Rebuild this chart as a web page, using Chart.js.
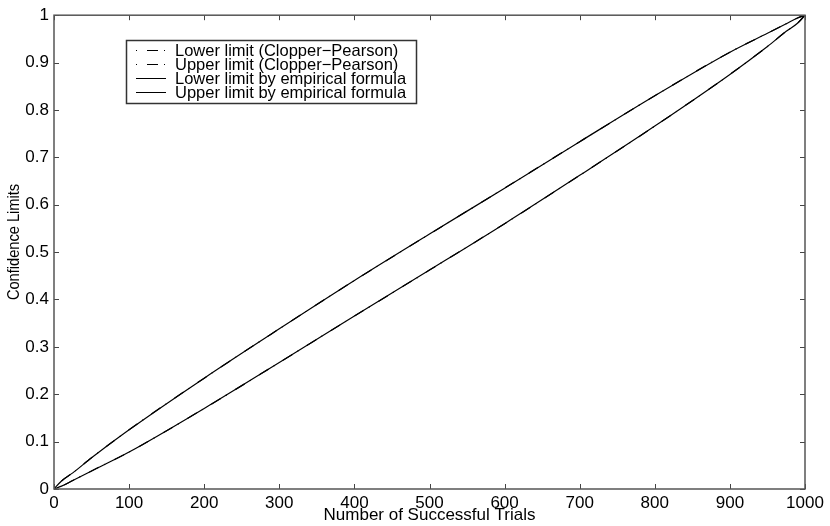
<!DOCTYPE html>
<html>
<head>
<meta charset="utf-8">
<script src="https://cdn.jsdelivr.net/npm/chart.js@4/dist/chart.umd.min.js"></script>
<style>
  html, body { margin: 0; padding: 0; background: #fff; }
  #wrap { width: 830px; height: 526px; }
</style>
</head>
<body>
<div id="wrap"><canvas id="chart" width="830" height="526"></canvas></div>
<script>
// number of successful trials (x)
const trials = [0, 10, 25, 50, 100, 200, 300, 400, 500, 600, 700, 800, 900, 950, 975, 990, 1000];
// limits (Clopper-Pearson and empirical curves lie on top of each other)
const lowerLimit = [0, 0.006, 0.018, 0.038, 0.078, 0.17, 0.267, 0.365, 0.462, 0.56, 0.662, 0.766, 0.875, 0.934, 0.966, 0.983, 1];
const upperLimit = [0, 0.017, 0.034, 0.066, 0.125, 0.234, 0.338, 0.44, 0.538, 0.635, 0.733, 0.83, 0.922, 0.962, 0.982, 0.994, 1];
const xTicks = [0, 100, 200, 300, 400, 500, 600, 700, 800, 900, 1000];
const yTicks = [0, 0.1, 0.2, 0.3, 0.4, 0.5, 0.6, 0.7, 0.8, 0.9, 1];
const labels = [
  'Lower limit (Clopper\u2212Pearson)',
  'Upper limit (Clopper\u2212Pearson)',
  'Lower limit by empirical formula',
  'Upper limit by empirical formula'
];
const yTitle = 'Confidence Limits';

const FONT = "'Liberation Sans', Arial, sans-serif";
const dashDot = [1, 10, 11, 6];

const toPoints = ys => trials.map((x, i) => ({ x: x, y: ys[i] }));

// ticks pointing inward on all four sides + frame
const frameTicks = {
  id: 'frameTicks',
  afterDraw(chart) {
    const { ctx, chartArea: a, scales } = chart;
    const len = 5;
    ctx.save();
    ctx.strokeStyle = '#444';
    ctx.lineWidth = 1;
    ctx.beginPath();
    xTicks.forEach(v => {
      const px = Math.round(scales.x.getPixelForValue(v)) + 0.5;
      ctx.moveTo(px, a.bottom); ctx.lineTo(px, a.bottom - len);
      ctx.moveTo(px, a.top); ctx.lineTo(px, a.top + len);
    });
    yTicks.forEach(v => {
      const py = Math.round(scales.y.getPixelForValue(v)) + 0.5;
      ctx.moveTo(a.left, py); ctx.lineTo(a.left + len, py);
      ctx.moveTo(a.right, py); ctx.lineTo(a.right - len, py);
    });
    ctx.stroke();
    ctx.strokeStyle = '#555';
    ctx.lineWidth = 1.5;
    ctx.strokeRect(a.left, a.top, a.right - a.left, a.bottom - a.top);

    // y axis title, narrow like the original
    ctx.translate(14, 242);
    ctx.rotate(-Math.PI / 2);
    ctx.scale(0.86, 1);
    ctx.font = '17px ' + FONT;
    ctx.fillStyle = '#000';
    ctx.textAlign = 'center';
    ctx.textBaseline = 'middle';
    ctx.fillText(yTitle, 0, 0);
    ctx.restore();
  }
};

// boxed legend inside the plot, top left
const boxLegend = {
  id: 'boxLegend',
  afterDraw(chart) {
    const ctx = chart.ctx;
    const bx = 126, by = 40, bw = 290, bh = 63;
    ctx.save();
    ctx.fillStyle = '#fff';
    ctx.fillRect(bx, by, bw, bh);
    ctx.strokeStyle = '#333';
    ctx.lineWidth = 1.5;
    ctx.strokeRect(bx + 0.5, by + 0.5, bw, bh);
    ctx.font = '16.5px ' + FONT;
    ctx.textBaseline = 'middle';
    ctx.fillStyle = '#000';
    labels.forEach((t, i) => {
      const y = by + 10.5 + i * 14;
      ctx.beginPath();
      ctx.setLineDash(i < 2 ? dashDot : []);
      ctx.strokeStyle = '#000';
      ctx.lineWidth = 1;
      ctx.moveTo(136, y); ctx.lineTo(166, y);
      ctx.stroke();
      ctx.fillText(t, 175, y + 1);
    });
    ctx.restore();
  }
};

const ctx = document.getElementById('chart').getContext('2d');
new Chart(ctx, {
  type: 'line',
  data: {
    datasets: [
      { label: labels[0], data: toPoints(lowerLimit), borderDash: dashDot },
      { label: labels[1], data: toPoints(upperLimit), borderDash: dashDot },
      { label: labels[2], data: toPoints(lowerLimit) },
      { label: labels[3], data: toPoints(upperLimit) }
    ].map(d => Object.assign(d, {
      borderColor: '#000',
      borderWidth: 1.2,
      pointRadius: 0,
      cubicInterpolationMode: 'monotone',
      fill: false
    }))
  },
  options: {
    responsive: false,
    animation: false,
    layout: { padding: { top: 13, right: 25, left: 0, bottom: 0 } },
    plugins: {
      legend: { display: false },
      tooltip: { enabled: false }
    },
    scales: {
      x: {
        type: 'linear',
        min: 0,
        max: 1000,
        afterFit: s => { s.height = 37; },
        afterBuildTicks: s => { s.ticks = xTicks.map(v => ({ value: v })); },
        grid: { display: false, drawTicks: false, tickLength: 0 },
        border: { display: false },
        ticks: {
          color: '#000',
          font: { family: FONT, size: 17 },
          padding: 4,
          maxRotation: 0,
          callback: v => String(v)
        },
        title: {
          display: true,
          text: 'Number of Successful Trials',
          color: '#000',
          font: { family: FONT, size: 17 },
          padding: { top: 0, bottom: 0 }
        }
      },
      y: {
        min: 0,
        max: 1,
        afterFit: s => { s.width = 54; },
        afterBuildTicks: s => { s.ticks = yTicks.map(v => ({ value: v })); },
        grid: { display: false, drawTicks: false, tickLength: 0 },
        border: { display: false },
        ticks: {
          color: '#000',
          font: { family: FONT, size: 17 },
          padding: 5,
          callback: v => String(+v.toFixed(1))
        },
        title: { display: false }
      }
    }
  },
  plugins: [frameTicks, boxLegend]
});
</script>
</body>
</html>
